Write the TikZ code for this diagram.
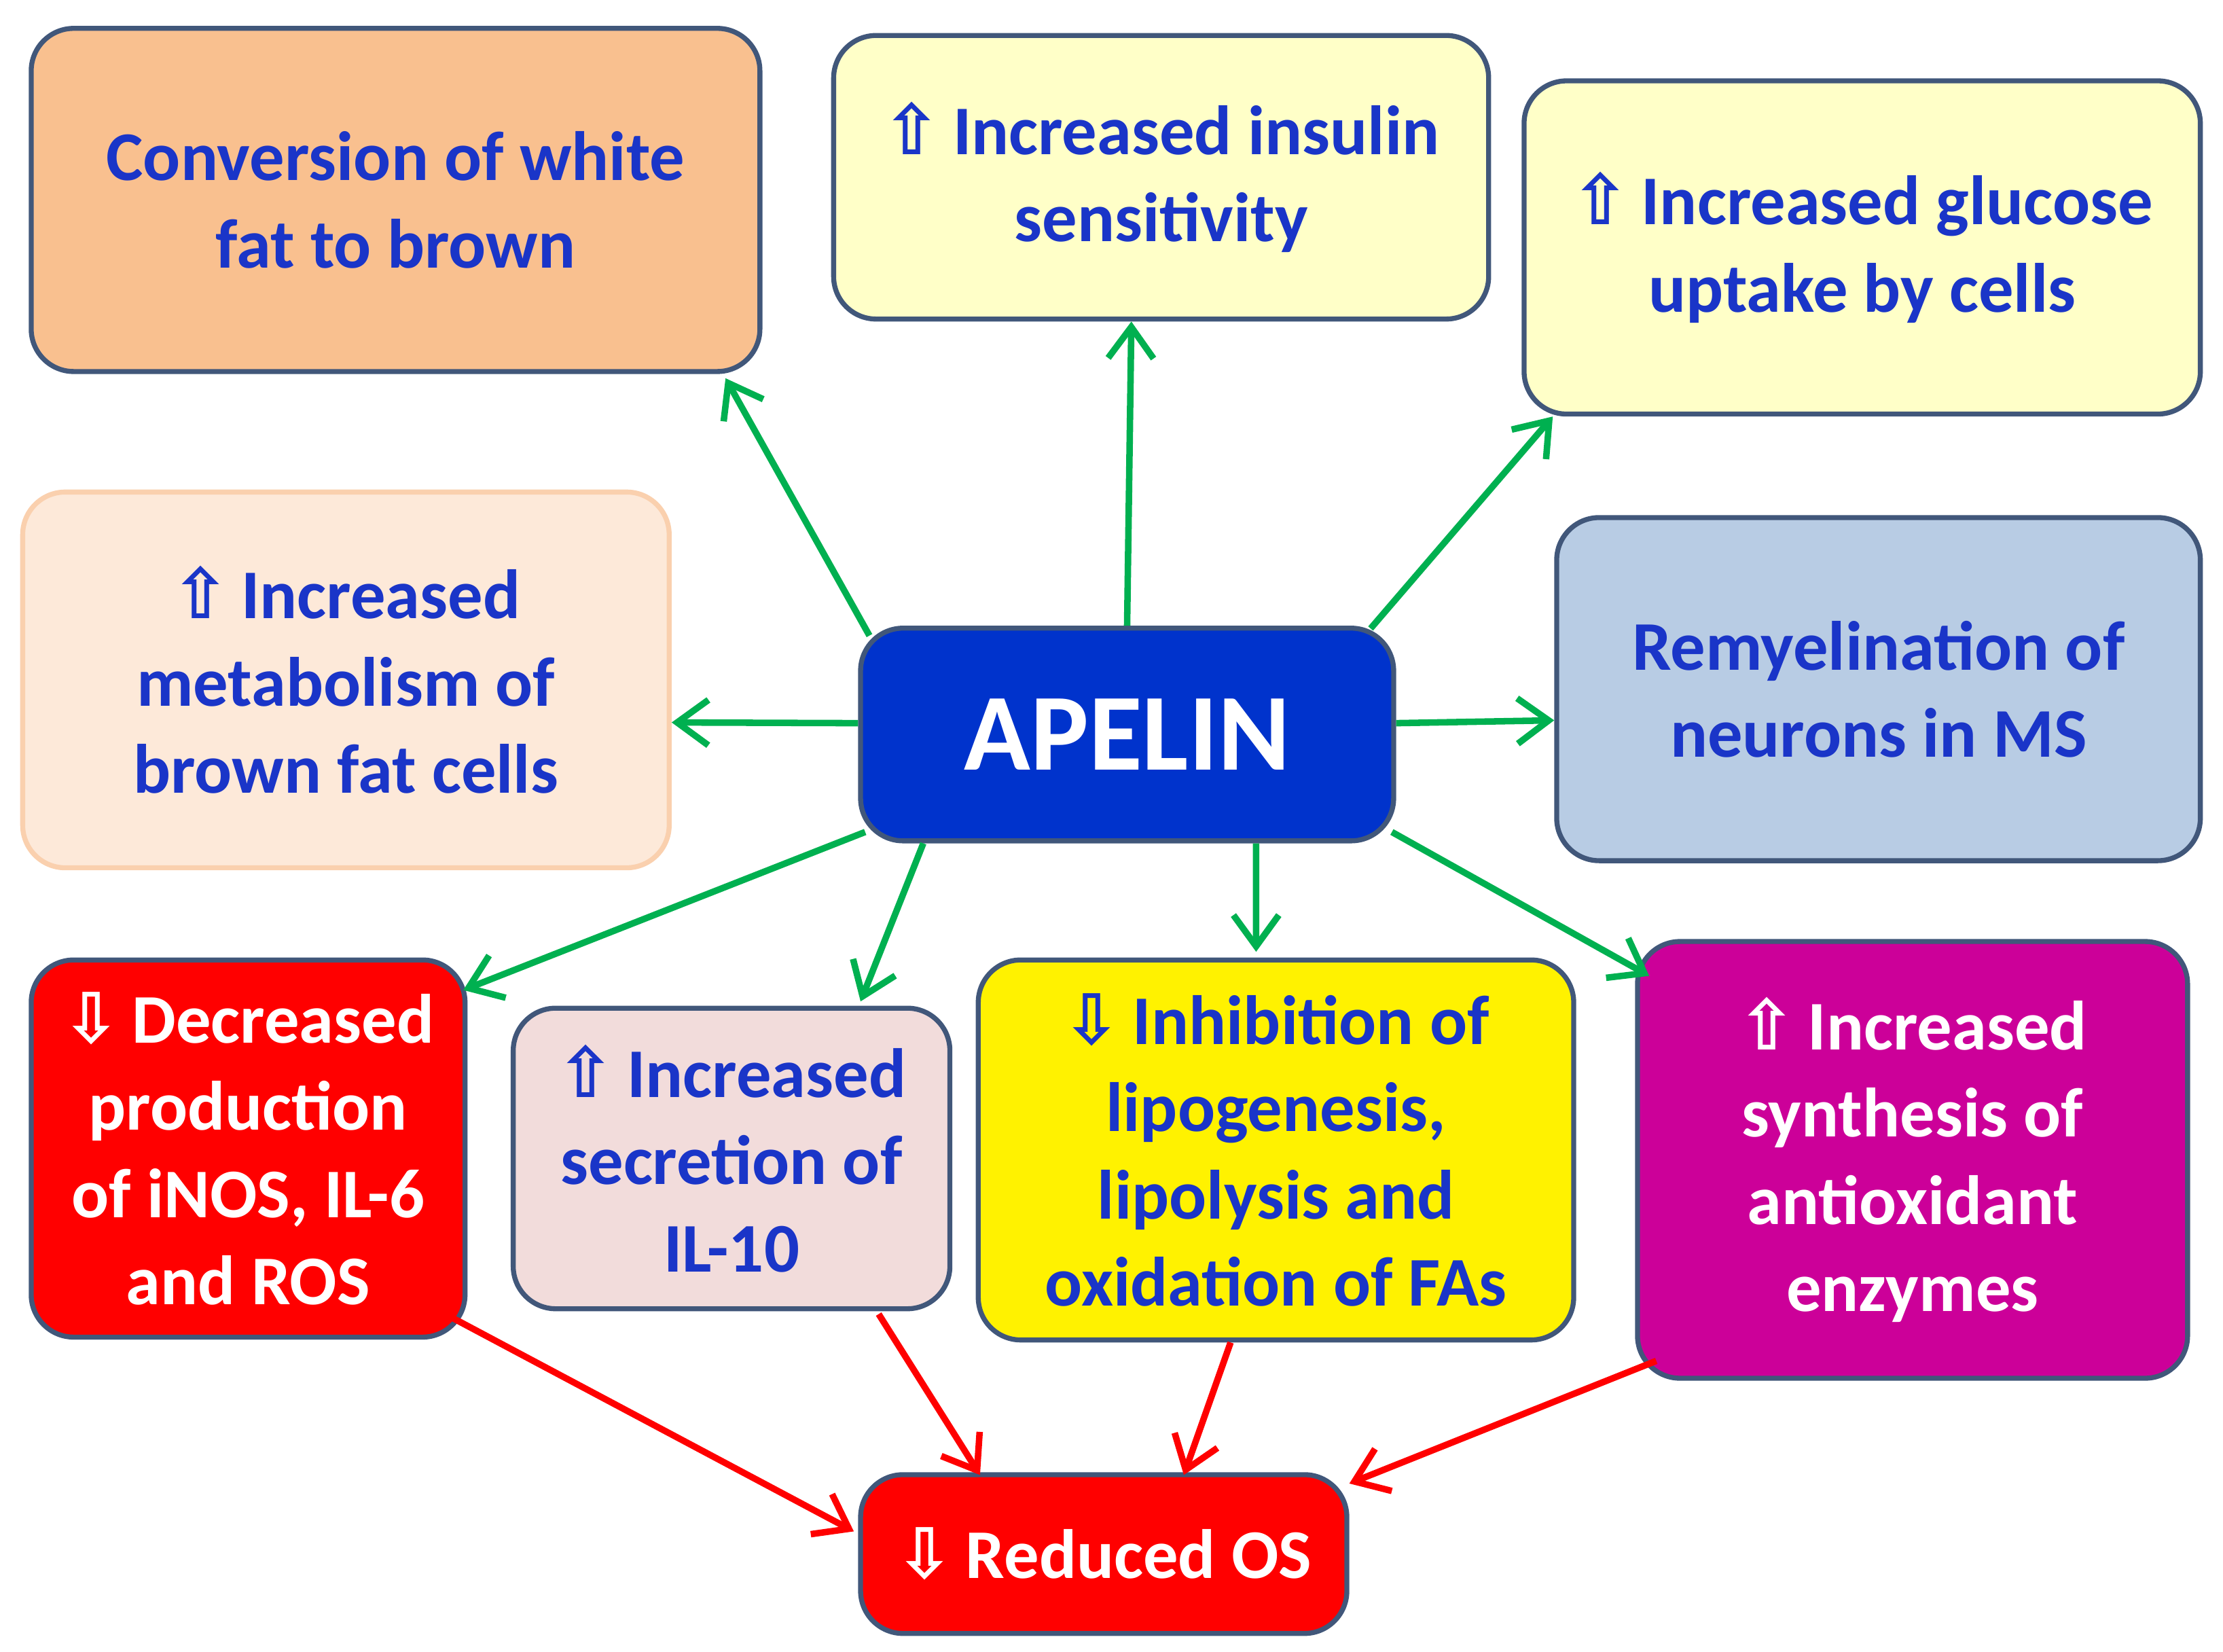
\documentclass[tikz,border=0pt]{standalone}
\usepackage{fontspec}
\setmainfont{Carlito}
\newfontfamily\arrf{DejaVu Sans}
\usetikzlibrary{arrows.meta}
\definecolor{tblue}{HTML}{1A35C8}
\definecolor{bord}{HTML}{41577A}
\definecolor{grn}{HTML}{00B050}
\definecolor{corange}{HTML}{F9C08F}
\definecolor{cyel}{HTML}{FFFFC8}
\definecolor{cpeach}{HTML}{FDE9D9}
\definecolor{cpeachb}{HTML}{FAD0AE}
\definecolor{cap}{HTML}{0033CC}
\definecolor{cgblue}{HTML}{B8CCE4}
\definecolor{cpink}{HTML}{F2DCDB}
\definecolor{cmag}{HTML}{CC0099}
\newcommand{\up}{{\arrf\char"21E7}\,}
\newcommand{\dn}{{\arrf\char"21E9}\,}
\tikzset{
 box/.style={draw=bord,line width=1pt,rounded corners=0.3cm,align=center,inner sep=0pt,
   font=\fontsize{14}{17.5}\selectfont\bfseries,text=tblue},
 ga/.style={draw=grn,line width=1.3pt,-{Straight Barb[length=2.2mm,width=3.2mm,line width=1.3pt]}},
 ra/.style={draw=red,line width=1.3pt,-{Straight Barb[length=2.2mm,width=3.2mm,line width=1.3pt]}},
}
\newcommand{\bx}[7]{% name x1 y1 x2 y2 style text
 \node[box,#6,minimum width=#4cm-#2cm,minimum height=#5cm-#3cm] (#1) at ({(#2+#4)/2},{-(#3+#5)/2}) {#7};}
\begin{document}
\begin{tikzpicture}
\useasboundingbox (0,0) rectangle (15.68,-11.65);
\bx{conv}{0.22}{0.20}{5.36}{2.62}{fill=corange}{Conversion of white\\fat to brown}
\bx{ins}{5.88}{0.25}{10.50}{2.25}{fill=cyel}{\up Increased insulin\\sensitivity}
\bx{glu}{10.75}{0.57}{15.52}{2.92}{fill=cyel}{\up Increased glucose\\uptake by cells}
\bx{met}{0.16}{3.47}{4.72}{6.12}{fill=cpeach,draw=cpeachb}{\up Increased\\metabolism of\\brown fat cells}
\bx{ap}{6.07}{4.43}{9.83}{5.93}{fill=cap,text=white,font=\fontsize{22}{26}\selectfont\bfseries}{APELIN}
\bx{rem}{10.98}{3.65}{15.52}{6.07}{fill=cgblue}{Remyelination of\\neurons in MS}
\bx{dec}{0.22}{6.77}{3.28}{9.43}{fill=red,text=white}{\dn Decreased\\production\\of iNOS, IL-6\\and ROS}
\bx{il}{3.62}{7.11}{6.70}{9.23}{fill=cpink}{\up Increased\\secretion of\\IL-10}
\bx{inh}{6.90}{6.77}{11.10}{9.45}{fill=yellow}{\dn Inhibition of\\lipogenesis,\\lipolysis and\\oxidation of FAs}
\bx{ant}{11.55}{6.64}{15.43}{9.72}{fill=cmag,text=white}{\up Increased\\synthesis of\\antioxidant\\enzymes}
\bx{ros}{6.07}{10.40}{9.50}{11.52}{fill=red,text=white}{\dn Reduced OS}
\draw[ga] ([shift={(0.08,-0.07)}]ap.north west) -- ([shift={(-0.26,-0.03)}]conv.south east);
\draw[ga] (ap.north) -- ([shift={(-0.21,0)}]ins.south);
\draw[ga] ([shift={(-0.18,-0.02)}]ap.north east) -- ([shift={(0.22,0)}]glu.south west);
\draw[ga] ([shift={(0,0.08)}]ap.west) -- ([shift={(0,-0.30)}]met.east);
\draw[ga] ([shift={(0,0.08)}]ap.east) -- ([shift={(0,-0.22)}]rem.west);
\draw[ga] ([shift={(0.05,0.08)}]ap.south west) -- ([shift={(-0.03,-0.23)}]dec.north east);
\draw[ga] ([shift={(0.46,0)}]ap.south west) -- ([shift={(0.91,0.03)}]il.north);
\draw[ga] ([shift={(0.91,0)}]ap.south) -- ([shift={(-0.14,0.04)}]inh.north);
\draw[ga] ([shift={(-0.03,0.08)}]ap.south east) -- ([shift={(0.10,-0.26)}]ant.north west);
\draw[ra] ([shift={(-0.10,0.15)}]dec.south east) -- ([shift={(-0.03,0.16)}]ros.west);
\draw[ra] ([shift={(-0.52,-0.02)}]il.south east) -- ([shift={(0.86,-0.02)}]ros.north west);
\draw[ra] ([shift={(-0.32,0)}]inh.south) -- ([shift={(0.565,-0.02)}]ros.north);
\draw[ra] ([shift={(0.15,0.14)}]ant.south west) -- ([shift={(0,-0.08)}]ros.north east);
\end{tikzpicture}
\end{document}
